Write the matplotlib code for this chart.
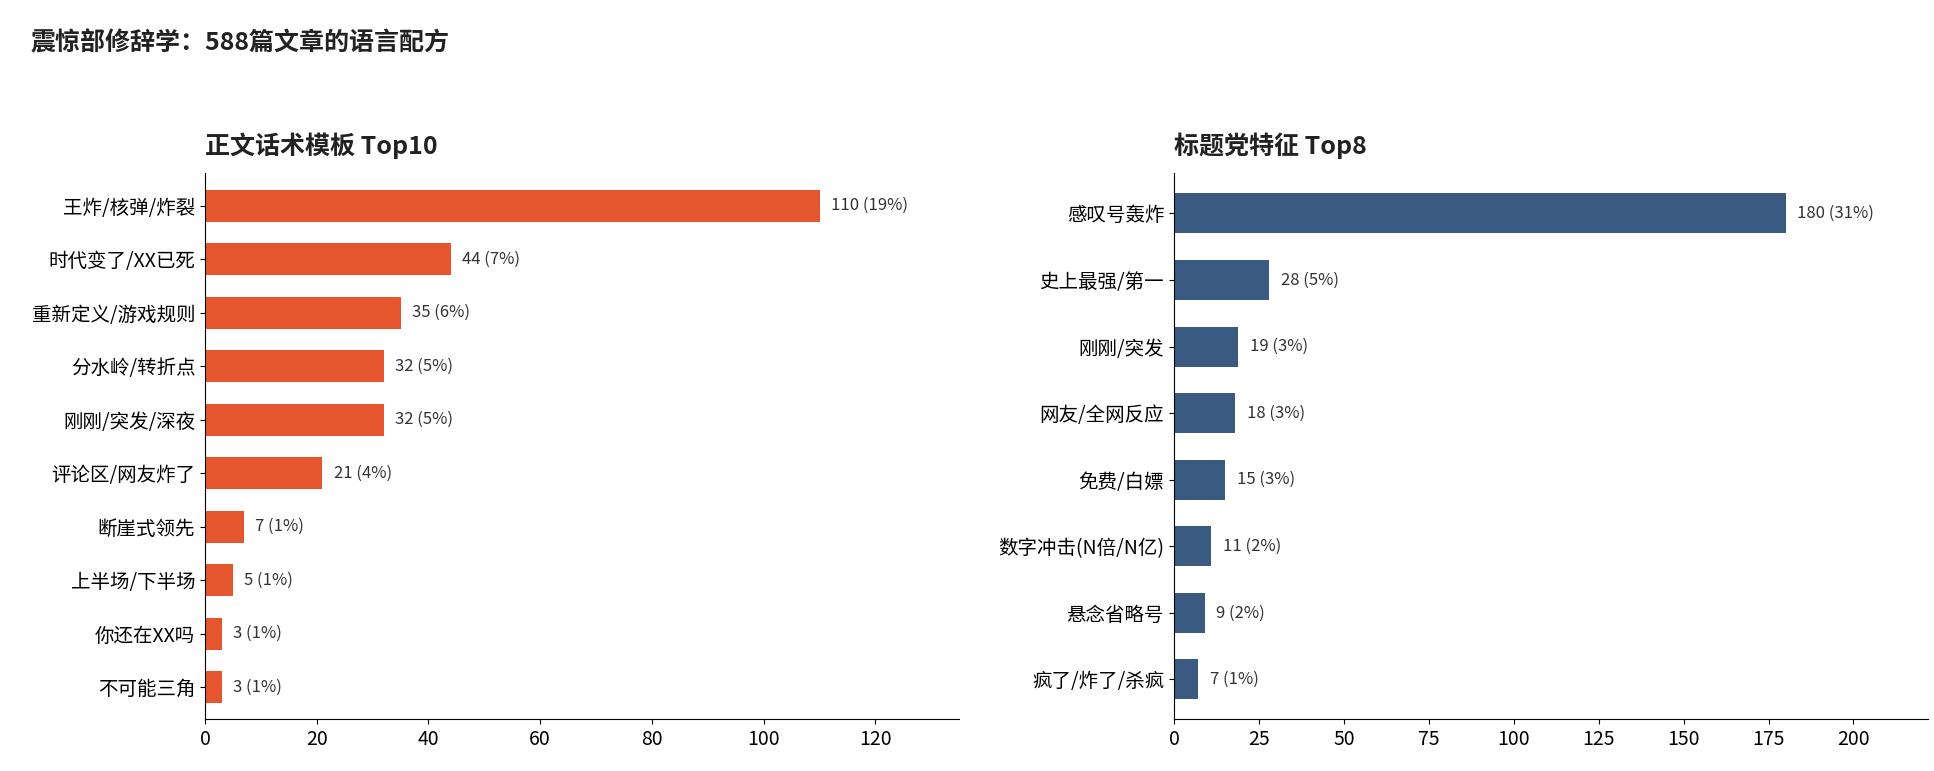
import matplotlib
matplotlib.use("Agg")
import matplotlib.pyplot as plt

plt.rcParams['font.family'] = ['Noto Sans CJK SC', 'DejaVu Sans']

body_labels = ["王炸/核弹/炸裂", "时代变了/XX已死", "重新定义/游戏规则", "分水岭/转折点", "刚刚/突发/深夜",
               "评论区/网友炸了", "断崖式领先", "上半场/下半场", "你还在XX吗", "不可能三角"]
body_counts = [110, 44, 35, 32, 32, 21, 7, 5, 3, 3]
body_pcts = [19, 7, 6, 5, 5, 4, 1, 1, 1, 1]

title_labels = ["感叹号轰炸", "史上最强/第一", "刚刚/突发", "网友/全网反应", "免费/白嫖",
                "数字冲击(N倍/N亿)", "悬念省略号", "疯了/炸了/杀疯"]
title_counts = [180, 28, 19, 18, 15, 11, 9, 7]
title_pcts = [31, 5, 3, 3, 3, 2, 2, 1]

fig = plt.figure(figsize=(19.34, 7.71), dpi=100)
fig.text(0.016, 0.935, "震惊部修辞学：588篇文章的语言配方", fontsize=18, fontweight="bold", color="#222222")

ax1 = fig.add_axes([0.106, 0.067, 0.39, 0.708])
ax2 = fig.add_axes([0.607, 0.067, 0.39, 0.708])


def draw(ax, labels, counts, pcts, color, xmax, ticks, title, offset):
    y = list(range(len(labels)))
    ax.barh(y, counts, height=0.6, color=color)
    for yi, c, p in zip(y, counts, pcts):
        ax.text(c + offset, yi, f"{c} ({p}%)", va="center", fontsize=12, color="#333333")
    ax.set_yticks(y)
    ax.set_yticklabels(labels, fontsize=14)
    ax.invert_yaxis()
    ax.set_ylim(len(labels) - 0.4, -0.6)
    ax.set_xlim(0, xmax)
    ax.set_xticks(ticks)
    ax.tick_params(axis="x", labelsize=14)
    for s in ["top", "right"]:
        ax.spines[s].set_visible(False)
    ax.set_title(title, loc="left", fontsize=18, fontweight="bold", color="#222222", pad=14)


draw(ax1, body_labels, body_counts, body_pcts, "#E5562F", 135, [0, 20, 40, 60, 80, 100, 120], "正文话术模板 Top10", 2)
draw(ax2, title_labels, title_counts, title_pcts, "#3B5A82", 222, [0, 25, 50, 75, 100, 125, 150, 175, 200], "标题党特征 Top8", 3.5)

fig.savefig("out.png", dpi=100)
